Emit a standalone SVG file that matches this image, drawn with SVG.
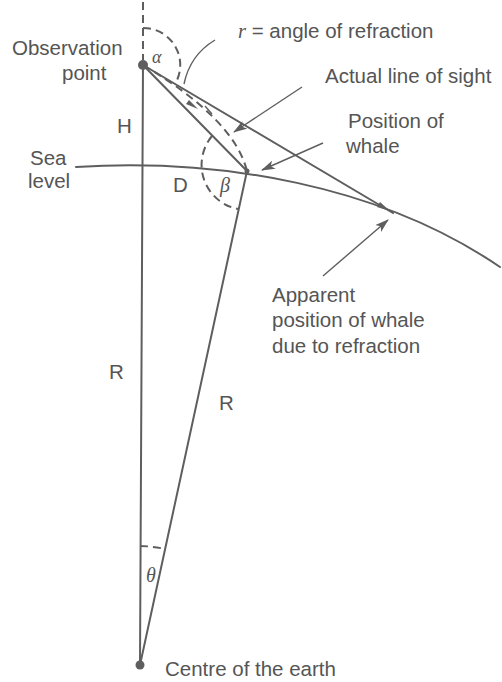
<svg xmlns="http://www.w3.org/2000/svg" width="502" height="682" viewBox="0 0 502 682">
<style>
.ln{fill:none;stroke:#5e5e5e;stroke-width:2;stroke-linecap:round}
.ld{fill:none;stroke:#5e5e5e;stroke-width:1.4}
.da{fill:none;stroke:#5e5e5e;stroke-width:2;stroke-dasharray:8 5}
.tx{font-family:"Liberation Sans",Arial,sans-serif;font-size:20.5px;fill:#555}
.gk{font-family:"Liberation Serif","Times New Roman",serif;font-style:italic;fill:#555}
.dot{fill:#5e5e5e}
</style>
<defs>
<marker id="ah" viewBox="0 0 14 9" refX="13" refY="4.5" markerWidth="14" markerHeight="9" orient="auto" markerUnits="userSpaceOnUse">
<path d="M0,0 L14,4.5 L0,9 L3.5,4.5 z" fill="#5e5e5e"/>
</marker>
</defs>
<rect width="502" height="682" fill="#fff"/>
<g id="connectors">
<line class="da" x1="143" y1="2" x2="143" y2="60"/>
<line class="ln" x1="143" y1="65" x2="140" y2="665"/>
<line id="line-of-sight" class="ln" x1="143" y1="65" x2="393" y2="213"/>
<line id="chord" class="ln" x1="143" y1="65" x2="247" y2="171"/>
<line id="radius-whale" class="ln" x1="247" y1="171" x2="140" y2="665"/>
<path id="sea-level" class="ln" d="M76,167 C220,158 380,185 500,267"/>
<path id="refracted-ray" class="da" d="M143,65 Q234,119 247,171"/>
<path id="alpha-arc" class="da" d="M143,28 A37,37 0 0 1 175,84"/>
<path id="beta-arc" class="da" d="M212,136 A45,45 0 0 0 238,209"/>
<path id="theta-arc" class="da" d="M140,546 A119,119 0 0 1 165,549"/>
<path class="ld" d="M215,40 Q190,55 184,84"/>
<line class="ld" x1="302" y1="87" x2="234" y2="132" marker-end="url(#ah)"/>
<line class="ld" x1="323" y1="143" x2="262" y2="170" marker-end="url(#ah)"/>
<line class="ld" x1="323" y1="276" x2="388" y2="220" marker-end="url(#ah)"/>
<polygon points="198,109 186,104 189,100" fill="#5e5e5e"/>
<path class="ld" d="M205,106 L212,114"/>
<polygon points="390,211 377,207 380,202" fill="#5e5e5e"/>
</g>
<g id="observation-point">
<circle class="dot" cx="143" cy="65" r="5"/>
<text class="tx" x="12" y="55">Observation</text>
<text class="tx" x="62" y="80">point</text>
<text class="gk" x="152" y="63" font-size="18">α</text>
</g>
<g id="refraction-label">
<text class="tx" x="238" y="38"><tspan class="gk">r</tspan> = angle of refraction</text>
</g>
<g id="actual-line-label">
<text class="tx" x="325" y="83">Actual line of sight</text>
</g>
<g id="whale">
<circle class="dot" cx="247" cy="171" r="2.5"/>
<text class="tx" x="348" y="128">Position of</text>
<text class="tx" x="346" y="153">whale</text>
<text class="gk" x="220" y="192" font-size="20">β</text>
</g>
<g id="sea-level-label">
<text class="tx" x="30" y="165">Sea</text>
<text class="tx" x="28" y="188">level</text>
</g>
<g id="apparent-position">
<text class="tx" x="272" y="302">Apparent</text>
<text class="tx" x="272" y="327">position of whale</text>
<text class="tx" x="272" y="353">due to refraction</text>
</g>
<g id="dimensions">
<text class="tx" x="117" y="133">H</text>
<text class="tx" x="173" y="192">D</text>
<text class="tx" x="109" y="379">R</text>
<text class="tx" x="219" y="410">R</text>
</g>
<g id="centre">
<circle class="dot" cx="140" cy="665" r="4.5"/>
<text class="gk" x="146" y="582" font-size="20">θ</text>
<text class="tx" x="165" y="676">Centre of the earth</text>
</g>
</svg>
